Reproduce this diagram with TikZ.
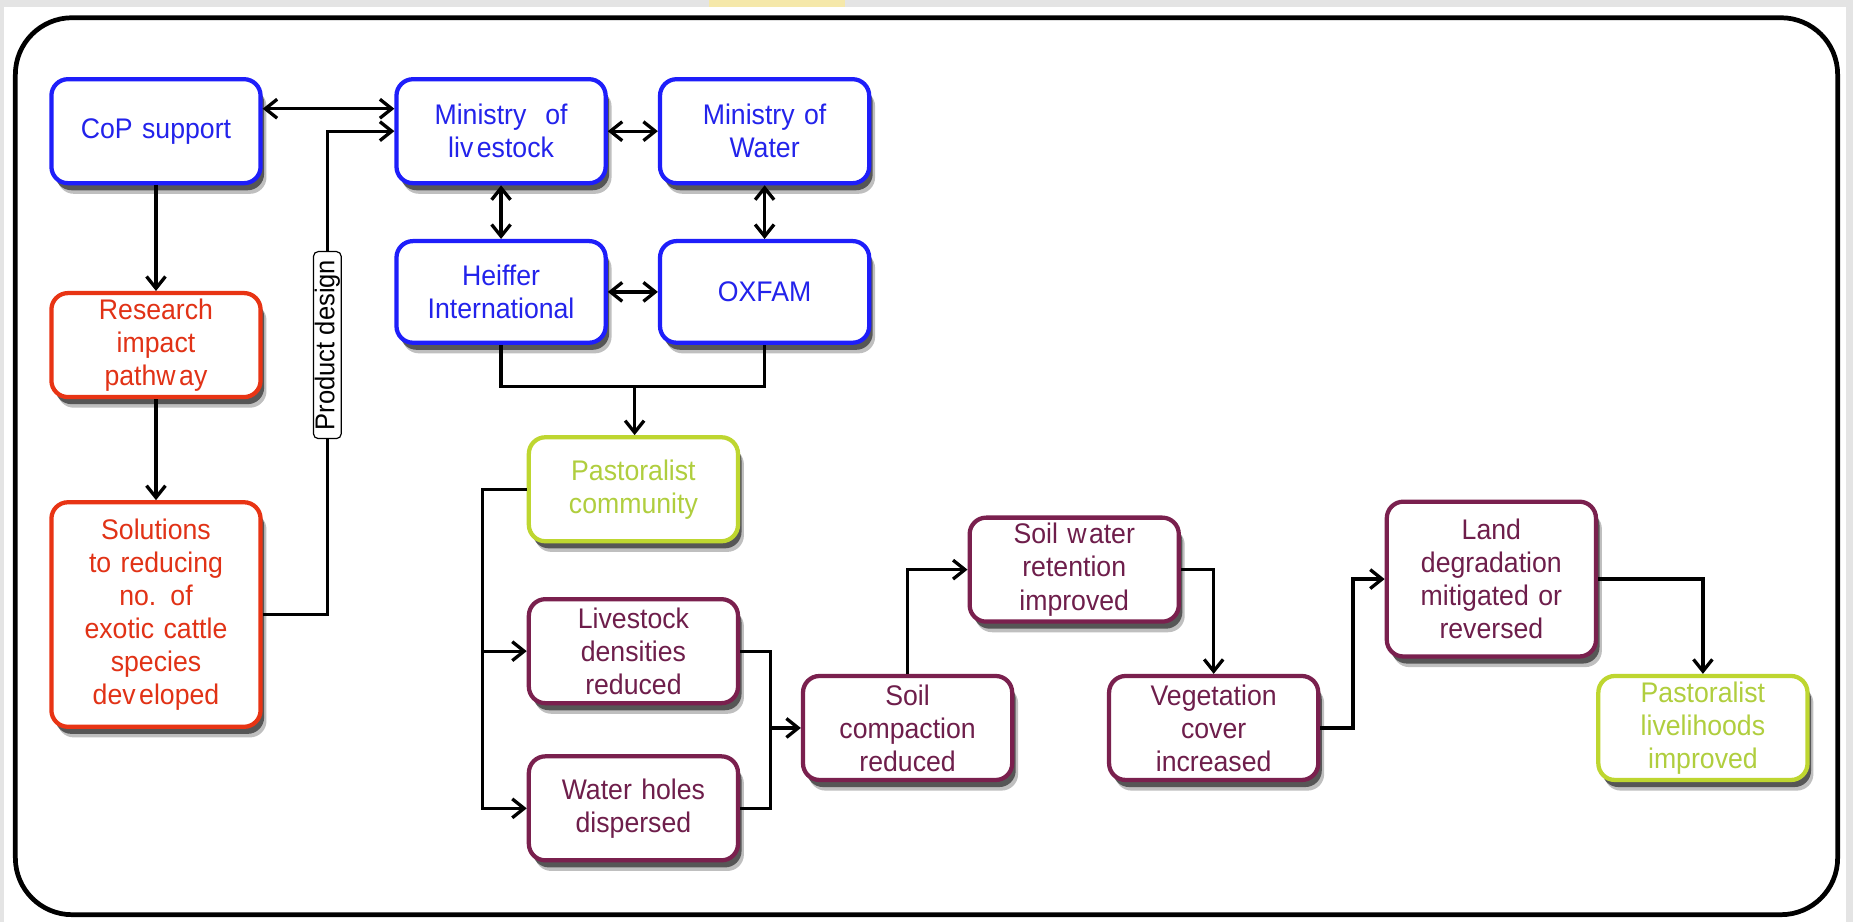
\documentclass[tikz,border=0pt]{standalone}
\usepackage{fontspec}
\setmainfont{Liberation Sans}[FakeStretch=0.94]
\usetikzlibrary{arrows.meta,shadows,calc}
\definecolor{cblue}{RGB}{30,30,250}
\definecolor{tblue}{RGB}{35,35,235}
\definecolor{cred}{RGB}{232,52,20}
\definecolor{tred}{RGB}{225,50,22}
\definecolor{cgreen}{RGB}{190,214,48}
\definecolor{tgreen}{RGB}{176,206,62}
\definecolor{cmar}{RGB}{122,32,78}
\definecolor{tmar}{RGB}{110,30,75}
\definecolor{bggrey}{RGB}{228,228,228}
\definecolor{bgyel}{RGB}{245,232,170}
\begin{document}
\begin{tikzpicture}[x=1pt,y=-1pt,
  box/.style={draw, line width=3.6pt, rounded corners=14pt, fill=white,
    minimum width=177pt, minimum height=88pt, text width=172pt, align=center,
    inner sep=0pt, font=\fontsize{24}{28}\selectfont,
    drop shadow={shadow xshift=5pt,shadow yshift=-9pt,opacity=0.25,fill=black},
    drop shadow={shadow xshift=3pt,shadow yshift=-6pt,opacity=0.55,fill=black}},
  bluebox/.style={box, draw=cblue, text=tblue},
  redbox/.style={box, draw=cred, text=tred},
  greenbox/.style={box, draw=cgreen, text=tgreen},
  marbox/.style={box, draw=cmar, text=tmar},
  pdbox/.style={draw, line width=1pt, rounded corners=4pt, fill=white,
    inner xsep=7pt, inner ysep=1pt, font=\fontsize{23}{24}\selectfont},
  conn/.style={line width=2.8pt},
  arr/.style={conn, -{Straight Barb[length=10pt,width=16pt]}},
  darr/.style={conn, {Straight Barb[length=10pt,width=16pt]}-{Straight Barb[length=10pt,width=16pt]}}
]
\useasboundingbox (0,0) rectangle (1568,780);
\fill[white] (0,0) rectangle (1568,780);
\fill[bggrey] (0,0) rectangle (1568,6);
\fill[bggrey] (0,0) rectangle (3,780);
\fill[bggrey] (1562,0) rectangle (1568,780);
\fill[bgyel] (600,0) rectangle (715,6);
\draw[line width=4pt, rounded corners=48pt] (13,15) rectangle (1555,774);

\node[bluebox] (cop) at (132,111) {CoP support};
\node[redbox] (res) at (132,292) {Research\\impact\\pathw\kern3pt ay};
\node[redbox, minimum height=190pt] (sol) at (132,520) {Solutions\\to reducing\\no. of\\exotic cattle\\species\\dev\kern3pt eloped};
\node[bluebox] (mliv) at (424,111) {Ministry\ \ of\\liv\kern3pt estock};
\node[bluebox] (mwat) at (647,111) {Ministry of\\Water};
\node[bluebox, minimum height=86pt] (hei) at (424,247) {Heiffer\\International};
\node[bluebox, minimum height=86pt] (oxf) at (647,247) {OXFAM};
\node[greenbox] (pcom) at (536,414) {Pastoralist\\community};
\node[marbox] (lden) at (536,551) {Livestock\\densities\\reduced};
\node[marbox] (whol) at (536,684) {Water holes\\dispersed};
\node[marbox] (scom) at (768,616) {Soil\\compaction\\reduced};
\node[marbox] (swat) at (909,482) {Soil w\kern2pt ater\\retention\\improved};
\node[marbox] (veg) at (1027,616) {Vegetation\\cover\\increased};
\node[marbox, minimum height=131pt] (land) at (1262,490) {Land\\degradation\\mitigated or\\reversed};
\node[greenbox] (plive) at (1441,616) {Pastoralist\\livelihoods\\improved};
\node[pdbox, rotate=90] (pd) at (277,292) {Product design};

\coordinate (y92) at (0,92);
\coordinate (jn) at (537,327);
\coordinate (pl) at (408,0);
\coordinate (m2) at (652,616);
\coordinate (c3) at (1145,550);

\draw[darr] (cop.east |- y92) -- (mliv.west |- y92);
\draw[conn] (sol.east) -| (pd.west);
\draw[arr] (pd.east) |- (mliv.west);
\draw[arr] (cop.south) -- (res.north);
\draw[arr] (res.south) -- (sol.north);
\draw[darr] (mliv.east) -- (mwat.west);
\draw[darr] (mliv.south) -- (hei.north);
\draw[darr] (mwat.south) -- (oxf.south |- oxf.north);
\draw[darr] (hei.east) -- (oxf.west);
\draw[conn] (hei.south) |- (jn) -| (oxf.south);
\draw[arr] (jn) -- (jn |- pcom.north);
\draw[arr] (pcom.west) -| (pl |- whol.west) -- (whol.west);
\draw[arr] (pl |- lden.west) -- (lden.west);
\draw[conn] (lden.east) -| (m2) |- (whol.east);
\draw[arr] (m2) -- (scom.west);
\draw[arr] (scom.north) |- (swat.west);
\draw[arr] (swat.east) -| (veg.north);
\draw[arr] (veg.east) -| (c3) |- (land.west);
\draw[arr] (land.east) -| (plive.north);
\end{tikzpicture}
\end{document}
